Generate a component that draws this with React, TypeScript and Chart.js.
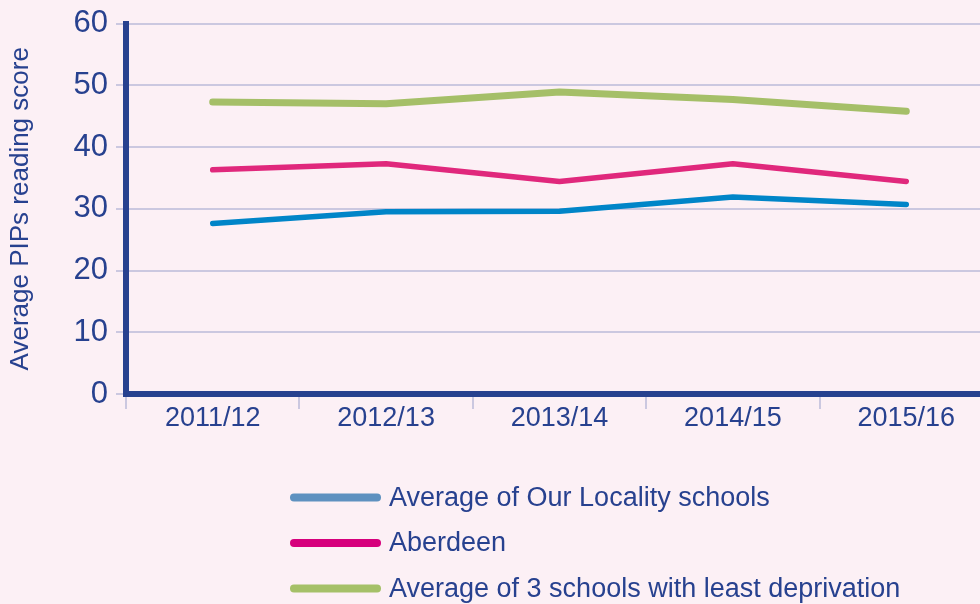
import React, { useEffect, useRef } from "react";
import { Chart, registerables } from "chart.js";

Chart.register(...registerables);

const categories = ["2011/12", "2012/13", "2013/14", "2014/15", "2015/16"];
const localityValues = [27.6, 29.5, 29.6, 31.9, 30.7];
const aberdeenValues = [36.3, 37.3, 34.4, 37.3, 34.4];
const leastDeprivationValues = [47.3, 47.0, 48.9, 47.7, 45.8];
const seriesNames = [
  "Average of Our Locality schools",
  "Aberdeen",
  "Average of 3 schools with least deprivation",
];
const lineColors = ["#0085c8", "#e0287c", "#a5bf68"];
const legendColors = ["#5e91c0", "#d6007c", "#a5c068"];
const lineWidths = [5.5, 5.5, 7];
const yTitle = "Average PIPs reading score";
const yMin = 0;
const yMax = 60;
const yStep = 10;

const NAVY = "#27418f";
const GRID = "#cbc8e0";
const BG = "#fcf0f5";
const FONT = "'Liberation Sans', Arial, Helvetica, sans-serif";

const stackedLegend = {
  id: "stackedLegend",
  afterDraw(chart: any) {
    const ctx = chart.ctx;
    ctx.save();
    chart.data.datasets.forEach((ds: any, i: number) => {
      const y = 497.5 + i * 45.5;
      ctx.strokeStyle = legendColors[i];
      ctx.lineWidth = 8;
      ctx.lineCap = "round";
      ctx.beginPath();
      ctx.moveTo(294, y);
      ctx.lineTo(377, y);
      ctx.stroke();
      ctx.fillStyle = NAVY;
      ctx.font = `27px ${FONT}`;
      ctx.textBaseline = "middle";
      ctx.textAlign = "left";
      ctx.fillText(ds.label, 389, y + 1);
    });
    ctx.restore();
  },
};

export default function App() {
  const canvasRef = useRef<HTMLCanvasElement | null>(null);

  useEffect(() => {
    if (!canvasRef.current) return;
    const series = [localityValues, aberdeenValues, leastDeprivationValues];
    const chart = new Chart(canvasRef.current, {
      type: "line",
      data: {
        labels: categories,
        datasets: series.map((values, i) => ({
          label: seriesNames[i],
          data: values,
          borderColor: lineColors[i],
          backgroundColor: lineColors[i],
          borderWidth: lineWidths[i],
          pointRadius: 0,
          pointHoverRadius: 0,
          tension: 0,
          fill: false,
          borderCapStyle: "round",
          borderJoinStyle: "round",
        })),
      },
      options: {
        responsive: false,
        animation: false,
        devicePixelRatio: 1,
        layout: { padding: { top: 22, right: 0, bottom: 170, left: 0 } },
        plugins: {
          legend: { display: false },
          tooltip: { enabled: false },
        },
        scales: {
          x: {
            offset: true,
            grid: {
              display: true,
              drawOnChartArea: false,
              offset: true,
              tickLength: 15,
              color: GRID,
              lineWidth: 2,
            },
            border: { display: true, width: 6, color: NAVY },
            ticks: {
              color: NAVY,
              font: { family: FONT, size: 27 },
              padding: -7,
              maxRotation: 0,
            },
            afterFit: (scale: any) => {
              scale.height = 40;
            },
          },
          y: {
            min: yMin,
            max: yMax,
            ticks: {
              stepSize: yStep,
              color: NAVY,
              font: { family: FONT, size: 31, lineHeight: 1 },
              padding: 8,
            },
            grid: { color: GRID, lineWidth: 2, tickLength: 10 },
            border: { display: true, width: 6, color: NAVY },
            title: {
              display: true,
              text: yTitle,
              color: NAVY,
              font: { family: FONT, size: 26, weight: "normal" },
              padding: { top: 5, bottom: 0 },
            },
            afterFit: (scale: any) => {
              scale.width = 126;
            },
          },
        },
      },
      plugins: [stackedLegend],
    });
    return () => chart.destroy();
  }, []);

  return (
    <div
      style={{
        position: "absolute",
        left: 0,
        top: 0,
        width: 980,
        height: 604,
        overflow: "hidden",
        background: BG,
      }}
    >
      <canvas ref={canvasRef} width={993} height={604} style={{ display: "block" }} />
    </div>
  );
}
